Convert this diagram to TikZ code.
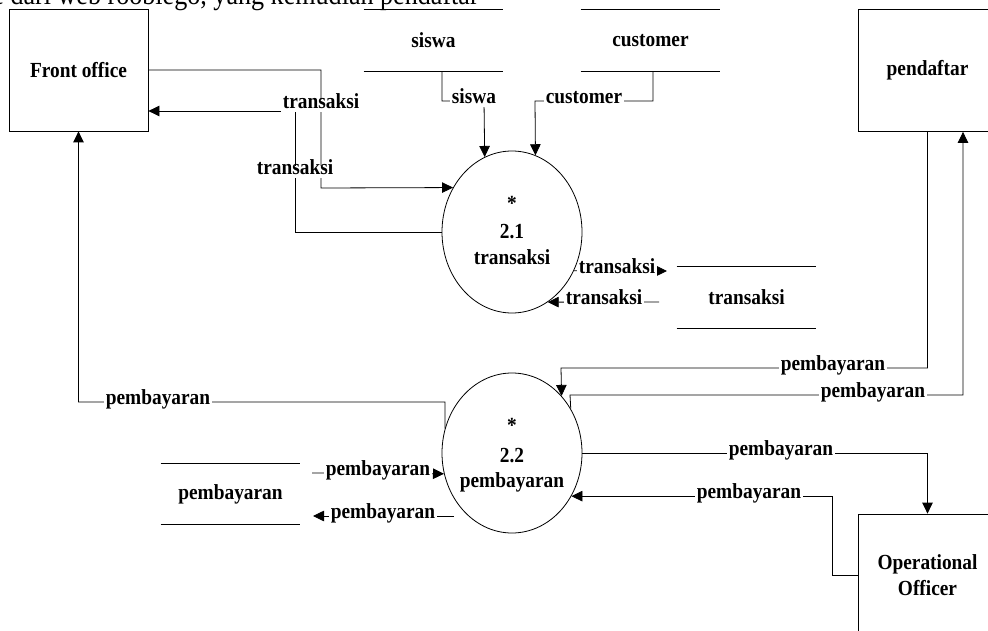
\documentclass[tikz,border=0pt]{standalone}
\usepackage{fontspec}
\setmainfont{Liberation Serif}[FakeStretch=0.9]
\usetikzlibrary{arrows.meta,shapes.geometric}
\begin{document}
\begin{tikzpicture}[x=1pt,y=-1pt, line width=0.8pt,
  every node/.style={font=\bfseries\fontsize{21.5}{25.5}\selectfont},
  ent/.style={draw, minimum width=139pt, minimum height=122pt, inner sep=0pt, align=center},
  store/.style={minimum width=139pt, minimum height=61pt, inner sep=0pt},
  proc/.style={draw, ellipse, minimum width=140pt, minimum height=162pt, inner sep=0pt},
  lbl/.style={fill=white, inner sep=1.5pt, text height=0.69em, text depth=0.23em},
  ptxt/.style={anchor=base, inner sep=0pt},
  flow/.style={-{Triangle[length=11pt,width=10.5pt]}},
]
\useasboundingbox (0,0) rectangle (988,631);
\fill[white] (0,0) rectangle (988,631);

% cut-off text line at top (the reference shows only its lower half)
\node[anchor=base west, inner sep=0pt, font=\mdseries\fontsize{29}{32}\selectfont] (cuttext) at (-8,4.5) {e dari web roobiego, yang kemudian pendaftar};

% external entities
\node[ent] (fo) at (78.5,70) {Front office};
\node[ent] (pend) at (927.5,70.5) {pendaftar};
\node[ent] (op) at (927.5,575) {Operational\\Officer};

% data stores
\node[store] (ss) at (433.5,40.5) {siswa};
\node[store] (cs) at (650.5,40.5) {customer};
\node[store] (ts) at (746.5,297.5) {transaksi};
\node[store, minimum height=60pt] (ps) at (230.5,494) {pembayaran};
\foreach \s in {ss,cs,ts,ps}{
  \draw (\s.north west) -- (\s.north east) (\s.south west) -- (\s.south east);
}

% processes
\node[proc] (p1) at (512,232) {};
\node[proc, minimum height=160pt] (p2) at (512,453) {};
\node[ptxt] (p1a) at (512,211) {*};
\node[ptxt] (p1b) at (512,239) {2.1};
\node[ptxt] (p1c) at (512,265) {transaksi};
\node[ptxt] (p2a) at (512,432) {*};
\node[ptxt] (p2b) at (512,462) {2.2};
\node[ptxt] (p2c) at (512,487) {pembayaran};

% flows around 2.1
\draw[flow] (fo.east) -| (321,188) -- (p1.143.17);
\draw[flow] (p1.west) -| (295,111) -- ([yshift=-41pt]fo.east);
\draw[flow] ([xshift=8.5pt]ss.south) |- (484,101) -- (p1.110.67);
\draw[flow] ([xshift=2.5pt]cs.south) |- (535,101) -- (p1.73.27);
\coordinate (tsin) at (667,271);
\draw[flow] (p1.-32.44) -- (tsin);
\coordinate (tsout) at (659,302);
\draw[flow] (tsout) -- (p1.-63.3);

% flows around 2.2
\draw[flow] (p2.160.9) -- (445,402) -| (fo.south);
\draw[flow] (pend.south) |- (561,368) -- (p2.49.37);
\draw[flow] (p2.37.68) -- (570,395) -| ([xshift=35.5pt]pend.south);
\draw[flow] (p2.east) -| (op.north);
\draw[flow] (op.west) -- (832,575) |- (p2.-36.07);
\coordinate (psout) at (312,473);
\draw[flow] (psout) -- (p2.-163.56);
\coordinate (p2gap) at (454,516);
\coordinate (psin) at (313,516);
\draw[flow] (p2gap) -- (psin);

% labels
\node[lbl] (l1) at (321,106) {transaksi};
\node[lbl] (l2) at (295,172) {transaksi};
\node[lbl] (l3) at (474,101) {siswa};
\node[lbl] (l4) at (584,101) {customer};
\node[lbl] (l5) at (617,271) {transaksi};
\node[lbl] (l6) at (604,302) {transaksi};
\node[lbl] (l7) at (158,402) {pembayaran};
\node[lbl] (l8) at (833,368) {pembayaran};
\node[lbl] (l9) at (873,395) {pembayaran};
\node[lbl] (l10) at (781,453) {pembayaran};
\node[lbl] (l11) at (749,496) {pembayaran};
\node[lbl] (l12) at (378,473) {pembayaran};
\node[lbl] (l13) at (383,516) {pembayaran};
\end{tikzpicture}
\end{document}
